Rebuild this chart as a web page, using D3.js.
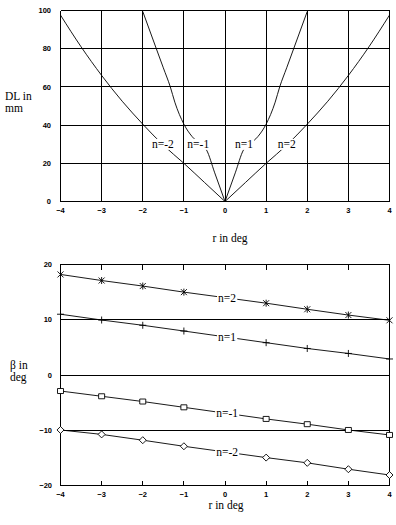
<!DOCTYPE html>
<html><head><meta charset="utf-8">
<script src="https://cdn.jsdelivr.net/npm/d3@7"></script>
<style>body{margin:0;background:#fff} svg{display:block}</style>
</head><body><svg id="c" width="396" height="525"></svg>
<script>
// ---------- data ----------
const ticksR = [-4,-3,-2,-1,0,1,2,3,4];
const ticksDL = [0,20,40,60,80,100];
const ticksBeta = [-20,-10,0,10,20];
const gridBeta = [-10,0,10];

// top chart: DL (mm) vs r (deg)
const dlR_nm2 = [-4,-3.5,-3,-2.5,-2,-1.5,-1,-0.5,0];
const dl_nm2  = [97.6,81,66,52.5,40.5,29.5,20,10,0];
const dlR_nm1 = [-2,-1.67,-1.5,-1.33,-1.22,-1,-0.8,-0.6,-0.45,-0.25,0];
const dl_nm1  = [99.5,80,70,60,52,40.5,34,30,27,15,0];
const dlR_n1  = [0,0.25,0.45,0.6,0.8,1,1.22,1.33,1.5,1.67,2];
const dl_n1   = [0,15,27,30,34,40.5,52,60,70,80,99.5];
const dlR_n2  = [0,0.5,1,1.5,2,2.5,3,3.5,4];
const dl_n2   = [0,10,20,29.5,40.5,52.5,66,81,97.6];
const dlLabels = ["n=-2","n=-1","n=1","n=2"];
const dlLabelR = [-1.51,-0.65,0.46,1.5];
const dlLabelV = [30,30,30,30];

// bottom chart: beta (deg) vs r (deg)
const betaR = [-4,-3,-2,-1,1,2,3,4];
const beta_n2  = [18.2,17.1,16.1,15.0,13.0,11.9,10.85,9.9];
const beta_n1  = [11.0,9.95,9.0,7.96,5.85,4.8,3.9,2.9];
const beta_nm1 = [-2.9,-3.85,-4.8,-5.85,-7.95,-8.9,-9.95,-10.85];
const beta_nm2 = [-9.95,-10.75,-11.8,-12.9,-14.95,-15.9,-17.05,-18.1];
const betaLabels = ["n=2","n=1","n=-1","n=-2"];
const betaMarkers = ["star","plus","square","diamond"];
const betaLabelR = 0.05;

// ---------- drawing ----------
const svg = d3.select("#c");
const serif = "'Liberation Serif','Times New Roman',serif";
const sans = "'Liberation Sans',Arial,sans-serif";

const x = d3.scaleLinear().domain([-4,4]).range([60.5,389.5]);
const yT = d3.scaleLinear().domain([0,100]).range([201.5,10.5]);
const yB = d3.scaleLinear().domain([-20,20]).range([485.5,264.5]);

function fmt(v){ return v<0 ? "\u2212"+Math.abs(v) : String(v); }

// ===== top chart =====
const gT = svg.append("g");
// grid
gT.selectAll("line.v").data(ticksR).join("line")
  .attr("x1",d=>x(d)).attr("x2",d=>x(d)).attr("y1",yT(0)).attr("y2",yT(100))
  .attr("stroke","#000").attr("stroke-width",1).attr("shape-rendering","crispEdges");
gT.selectAll("line.h").data(ticksDL).join("line")
  .attr("x1",x(-4)).attr("x2",x(4)).attr("y1",d=>yT(d)).attr("y2",d=>yT(d))
  .attr("stroke","#000").attr("stroke-width",1).attr("shape-rendering","crispEdges");

const lineT = d3.line().x(d=>x(d[0])).y(d=>yT(d[1])).curve(d3.curveMonotoneX);
const topSeries = [
  d3.zip(dlR_nm2, dl_nm2), d3.zip(dlR_nm1, dl_nm1),
  d3.zip(dlR_n1, dl_n1), d3.zip(dlR_n2, dl_n2)
];
gT.selectAll("path.c").data(topSeries).join("path")
  .attr("d",lineT).attr("fill","none").attr("stroke","#000").attr("stroke-width",0.9);

// labels with white background
function label(g, txt, cx, cy){
  const t = g.append("text").attr("x",cx).attr("y",cy).attr("dy","0.32em")
    .attr("text-anchor","middle").attr("font-family",serif).attr("font-size","11.5px")
    .attr("fill","#000").text(txt);
  const b = t.node().getBBox();
  g.insert("rect", function(){ return t.node(); })
    .attr("x",b.x-1).attr("y",b.y+1).attr("width",b.width+2).attr("height",b.height-1)
    .attr("fill","#fff");
}
dlLabels.forEach((s,i)=>label(gT, s, x(dlLabelR[i]), yT(dlLabelV[i])));

// tick labels
gT.selectAll("text.xt").data(ticksR).join("text")
  .attr("x",d=>x(d)).attr("y",213).attr("text-anchor","middle")
  .attr("font-family",sans).attr("font-size","7.5px").attr("font-weight","bold").text(fmt);
gT.selectAll("text.yt").data(ticksDL).join("text")
  .attr("x",51).attr("y",d=>yT(d)).attr("dy","0.35em").attr("text-anchor","end")
  .attr("font-family",sans).attr("font-size","7.5px").attr("font-weight","bold").text(fmt);
// axis titles
gT.append("text").attr("x",5).attr("y",100).attr("font-family",serif).attr("font-size","11.5px").text("DL in");
gT.append("text").attr("x",5).attr("y",112).attr("font-family",serif).attr("font-size","11.5px").text("mm");
gT.append("text").attr("x",230).attr("y",242).attr("text-anchor","middle").attr("font-family",serif).attr("font-size","11.5px").text("r in deg");

// ===== bottom chart =====
const gB = svg.append("g");
gB.append("rect").attr("x",x(-4)).attr("y",yB(20)).attr("width",x(4)-x(-4)).attr("height",yB(-20)-yB(20))
  .attr("fill","none").attr("stroke","#000").attr("shape-rendering","crispEdges");
gB.selectAll("line.h").data(gridBeta).join("line")
  .attr("x1",x(-4)).attr("x2",x(4)).attr("y1",d=>yB(d)).attr("y2",d=>yB(d))
  .attr("stroke","#000").attr("shape-rendering","crispEdges");
// tick marks top and bottom
gB.selectAll("line.tb").data(ticksR).join("line")
  .attr("x1",d=>x(d)).attr("x2",d=>x(d)).attr("y1",yB(-20)).attr("y2",yB(-20)-5)
  .attr("stroke","#000").attr("shape-rendering","crispEdges");
gB.selectAll("line.tt").data(ticksR).join("line")
  .attr("x1",d=>x(d)).attr("x2",d=>x(d)).attr("y1",yB(20)).attr("y2",yB(20)+5)
  .attr("stroke","#000").attr("shape-rendering","crispEdges");

const bottomSeries = [beta_n2, beta_n1, beta_nm1, beta_nm2].map(v=>d3.zip(betaR, v));
const lineB = d3.line().x(d=>x(d[0])).y(d=>yB(d[1]));
gB.selectAll("path.s").data(bottomSeries).join("path")
  .attr("d",lineB).attr("fill","none").attr("stroke","#000").attr("stroke-width",0.9);

const markerPath = {
  star: "M-3,-3L3,3M-3,3L3,-3M0,-3.5L0,3.5",
  plus: "M-3.5,0L3.5,0M0,-3.5L0,3.5",
  square: "M-3,-2.5L3,-2.5L3,2.5L-3,2.5Z",
  diamond: "M0,-3.5L3.5,0L0,3.5L-3.5,0Z"
};
bottomSeries.forEach((pts,i)=>{
  const m = betaMarkers[i];
  gB.selectAll("path.m"+i).data(pts).join("path")
    .attr("transform",d=>`translate(${x(d[0])},${yB(d[1])})`)
    .attr("d",markerPath[m])
    .attr("fill",(m==="square"||m==="diamond")?"#fff":"none")
    .attr("stroke","#000").attr("stroke-width",0.9);
  // label on the line near r=0
  const f = d3.scaleLinear().domain([pts[3][0],pts[4][0]]).range([pts[3][1],pts[4][1]]);
  label(gB, betaLabels[i], x(betaLabelR), yB(f(betaLabelR)));
});

gB.selectAll("text.xt").data(ticksR).join("text")
  .attr("x",d=>x(d)).attr("y",497).attr("text-anchor","middle")
  .attr("font-family",sans).attr("font-size","7.5px").attr("font-weight","bold").text(fmt);
gB.selectAll("text.yt").data(ticksBeta).join("text")
  .attr("x",52).attr("y",d=>yB(d)).attr("dy","0.35em").attr("text-anchor","end")
  .attr("font-family",sans).attr("font-size","7.5px").attr("font-weight","bold").text(fmt);
gB.append("text").attr("x",10).attr("y",369).attr("font-family",serif).attr("font-size","11.5px").text("\u03B2 in");
gB.append("text").attr("x",10).attr("y",381).attr("font-family",serif).attr("font-size","11.5px").text("deg");
gB.append("text").attr("x",226).attr("y",509).attr("text-anchor","middle").attr("font-family",serif).attr("font-size","11.5px").text("r in deg");
</script></body></html>
